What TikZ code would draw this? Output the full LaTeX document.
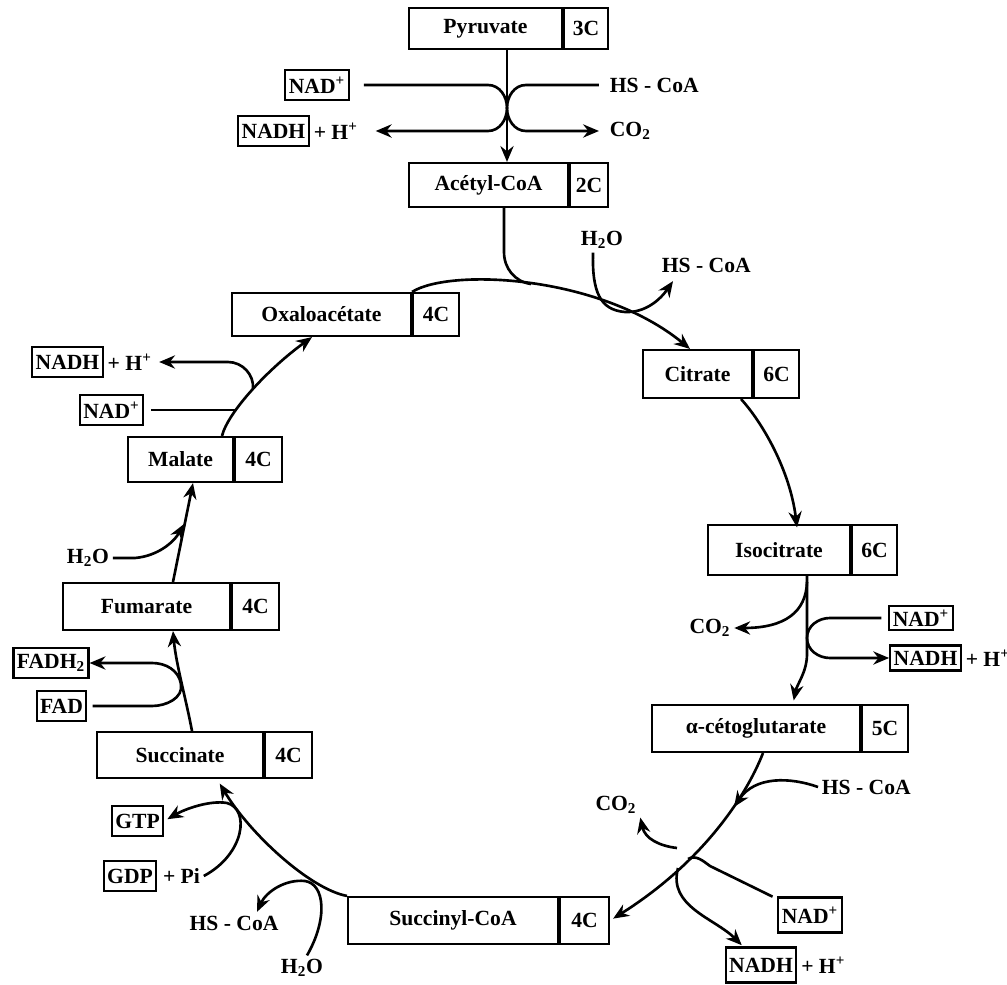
\documentclass[tikz,border=0pt]{standalone}
\usepackage{fontspec}
\setmainfont{Liberation Serif}
\usetikzlibrary{positioning,arrows.meta}

\begin{document}
\begin{tikzpicture}[
    x=0.02cm, y=0.02cm,
    every node/.style={font=\fontsize{12.3}{14}\selectfont\bfseries},
    mol/.style={rectangle, draw, line width=1.2pt, inner sep=2pt},
    cof/.style={rectangle, draw, line width=1.2pt, inner sep=2pt, minimum height=0.6cm},
    txt/.style={inner sep=2pt},
    line/.style={line width=1.5pt},
    arrow/.style={line width=1.5pt, -{Stealth[length=9pt,width=7.5pt]}}
]
\useasboundingbox (0,0) rectangle (1007,984);

% Molecules of the cycle
\node[mol, minimum width=3.06cm, minimum height=0.82cm] (pyr) at (485.5,955.5) {Pyruvate};
\node[mol, minimum width=0.88cm, minimum height=0.82cm, right=0pt of pyr] (pyrc) {3C};
\node[mol, minimum width=3.18cm, minimum height=0.88cm] (acc) at (488.5,799) {Acétyl-CoA};
\node[mol, minimum width=0.76cm, minimum height=0.88cm, right=0pt of acc] (accc) {2C};
\node[mol, minimum width=3.58cm, minimum height=0.86cm] (oaa) at (321.5,669.5) {Oxaloacétate};
\node[mol, minimum width=0.92cm, minimum height=0.86cm, right=0pt of oaa] (oaac) {4C};
\node[mol, minimum width=2.18cm, minimum height=0.96cm] (cit) at (697.5,610) {Citrate};
\node[mol, minimum width=0.9cm, minimum height=0.96cm, right=0pt of cit] (citc) {6C};
\node[mol, minimum width=2.84cm, minimum height=1.0cm] (ict) at (779,434) {Isocitrate};
\node[mol, minimum width=0.9cm, minimum height=1.0cm, right=0pt of ict] (ictc) {6C};
\node[mol, minimum width=4.16cm, minimum height=0.94cm] (akg) at (756,255.5) {α-cétoglutarate};
\node[mol, minimum width=0.92cm, minimum height=0.94cm, right=0pt of akg] (akgc) {5C};
\node[mol, minimum width=4.2cm, minimum height=0.94cm] (sca) at (453,63.5) {Succinyl-CoA};
\node[mol, minimum width=0.98cm, minimum height=0.94cm, right=0pt of sca] (scac) {4C};
\node[mol, minimum width=3.32cm, minimum height=0.92cm] (suc) at (180,229) {Succinate};
\node[mol, minimum width=0.94cm, minimum height=0.92cm, right=0pt of suc] (succ) {4C};
\node[mol, minimum width=3.34cm, minimum height=0.94cm] (fum) at (146.5,377.5) {Fumarate};
\node[mol, minimum width=0.94cm, minimum height=0.94cm, right=0pt of fum] (fumc) {4C};
\node[mol, minimum width=2.1cm, minimum height=0.9cm] (mal) at (180.5,524.5) {Malate};
\node[mol, minimum width=0.94cm, minimum height=0.9cm, right=0pt of mal] (malc) {4C};

% Cofactors and side products
\node[cof] (nad1) at (317,899) {NAD\textsuperscript{+}};
\node[cof] (nadh1) at (273.5,853) {NADH};
\node[txt, right=0pt of nadh1] (h1) {+ H\textsuperscript{+}};
\node[txt, anchor=west] (hs1) at (606,899) {HS - CoA};
\node[txt, anchor=west] (co1) at (606,853) {CO\textsubscript{2}};
\node[txt] (h2o1) at (602,744) {H\textsubscript{2}O};
\node[txt, anchor=west] (hs2) at (658,719) {HS - CoA};
\node[txt] (co2) at (710,356) {CO\textsubscript{2}};
\node[cof, minimum height=0.48cm] (nad2) at (921,366) {NAD\textsuperscript{+}};
\node[cof, minimum height=0.5cm] (nadh2) at (925.5,326) {NADH};
\node[txt, right=0pt of nadh2] (h2) {+ H\textsuperscript{+}};
\node[txt, anchor=west] (hs3) at (818,197) {HS - CoA};
\node[txt] (co3) at (616,179) {CO\textsubscript{2}};
\node[cof, minimum height=0.7cm] (nad3) at (810,69) {NAD\textsuperscript{+}};
\node[cof, minimum height=0.7cm] (nadh3) at (761,19) {NADH};
\node[txt, right=0pt of nadh3] (h3) {+ H\textsuperscript{+}};
\node[cof] (gtp) at (137.5,163) {GTP};
\node[cof] (gdp) at (130,108) {GDP};
\node[txt, right=1pt of gdp] (pi) {+ Pi};
\node[txt] (hs4) at (234,61) {HS - CoA};
\node[txt] (h2o3) at (302,16) {H\textsubscript{2}O};
\node[cof] (fadh) at (51,321) {FADH\textsubscript{2}};
\node[cof] (fad) at (61.5,278) {FAD};
\node[txt] (h2o2) at (88,426) {H\textsubscript{2}O};
\node[cof] (nadh4) at (67.5,622) {NADH};
\node[txt, right=0pt of nadh4] (h4) {+ H\textsuperscript{+}};
\node[cof] (nad4) at (111.5,574) {NAD\textsuperscript{+}};

% Junctions on the main path
\coordinate (j1) at (507,876);
\coordinate (a1) at (504,732);
\coordinate (j2) at (531,700);
\coordinate (j3) at (807,346);
\coordinate (b1) at (807,402);
\coordinate (j4) at (688,125);
\coordinate (j5) at (678,116);
\coordinate (b2) at (677,136);
\coordinate (j9) at (734,177);
\coordinate (j6) at (181,300);
\coordinate (j10) at (184,460);
\coordinate (j7) at (236,574);
\coordinate (j8) at (253,595);

% Pyruvate -> Acetyl-CoA
\draw[arrow] (pyr.south -| j1) -- (acc.north -| j1);
\draw[line, shorten <=8pt] (nad1) -- (488,899) to[out=0,in=90] (j1);
\draw[arrow, shorten >=8pt] (j1) to[out=-90,in=0] (488,853) -- (h1);
\draw[line, shorten <=4pt] (hs1.west) -- (526,899) to[out=180,in=90] (j1);
\draw[arrow, shorten >=4pt] (j1) to[out=-90,in=180] (526,853) -- (co1.west);

% Entry into the cycle
\draw[line] (acc.south -| a1) -- (a1) to[out=-90,in=172] (j2);
\draw[arrow] (oaa.north east) .. controls (450,716) and (600,709) .. ([xshift=-0.15cm]cit.north);
\draw[arrow] ([xshift=-0.18cm]h2o1.south) .. controls (592,692) and (600,674) .. (625,672)
    .. controls (645,671) and (660,684) .. ([xshift=0.3cm,yshift=-0.1cm]hs2.south west);

% Citrate -> Isocitrate -> alpha-cetoglutarate
\draw[arrow] ([xshift=0.87cm]cit.south) .. controls (762,562) and (790,514) .. ([xshift=0.36cm,yshift=-2pt]ict.north);
\draw[arrow, shorten >=2pt] ([xshift=0.56cm]ict.south) -- (807,330) .. controls (807,312) and (797,300) .. ([xshift=0.74cm]akg.north);
\draw[arrow] (b1) .. controls (806,372) and (785,356) .. (co2.east);
\draw[line, shorten <=4pt] (nad2.west) -- (830,366) to[out=180,in=90] (j3);
\draw[arrow] (j3) to[out=-90,in=180] (830,326) -- (nadh2.west);

% alpha-cetoglutarate -> Succinyl-CoA
\draw[arrow, shorten >=2pt] ([xshift=0.14cm]akg.south) .. controls (745,185) and (700,120) .. (scac.east);
\draw[arrow] (hs3.west) .. controls (790,207) and (755,208) .. (j9);
\draw[arrow] (b2) .. controls (660,138) and (645,145) .. (co3.south east);
\draw[line, shorten <=3pt] (nad3) -- (710,118) to[out=144,in=30] (j4);
\draw[arrow, shorten >=1pt] (j5) to[out=255,in=135] ([xshift=-0.36cm]nadh3.north);

% Succinyl-CoA -> Succinate
\draw[arrow, shorten >=3pt] (sca.north west) .. controls (310,95) and (250,150) .. ([xshift=0.74cm]suc.south);
\draw[arrow, shorten >=2pt] (pi.east) .. controls (245,130) and (250,175) .. (227,181)
    .. controls (210,184) and (185,175) .. (gtp.east);
\draw[arrow] ([xshift=0.1cm]h2o3.north) .. controls (328,65) and (325,100) .. (305,103)
    .. controls (285,105) and (266,92) .. ([xshift=0.46cm]hs4.north);

% Succinate -> Fumarate -> Malate
\draw[arrow] ([xshift=0.24cm]suc.north) .. controls (186,285) and (176,320) .. ([xshift=0.53cm]fum.south);
\draw[line, shorten <=3pt] (fad.east) -- (152,278) to[out=0,in=-80] (j6);
\draw[arrow] (j6) to[out=100,in=0] (152,321) -- (fadh.east);
\draw[arrow] ([xshift=0.53cm]fum.north) -- ([xshift=0.25cm]mal.south);
\draw[arrow] (h2o2.east) -- (135,426) .. controls (158,428) and (174,442) .. (j10);

% Malate -> Oxaloacetate
\draw[arrow] ([xshift=0.83cm]mal.north) .. controls (228,572) and (268,615) .. ([xshift=-0.19cm]oaa.south);
\draw[line, shorten <=4pt] (nad4.east) -- (j7);
\draw[arrow, shorten >=2pt] (j8) to[out=85,in=0] (228,622) -- (h4.east);

\end{tikzpicture}
\end{document}
